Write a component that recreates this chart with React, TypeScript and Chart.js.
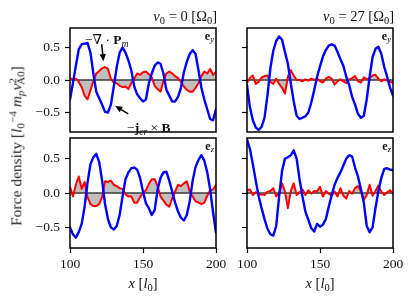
import React, { useEffect, useRef } from "react";
import { Chart, registerables } from "chart.js";

Chart.register(...registerables);

const FONT = '"Liberation Serif", "DejaVu Serif", serif';

// x positions [l0]
const X_VALUES = [
  100, 102, 104, 106, 108, 110, 112, 114, 116, 118,
  120, 122, 124, 126, 128, 130, 132, 134, 136, 138,
  140, 142, 144, 146, 148, 150, 152, 154, 156, 158,
  160, 162, 164, 166, 168, 170, 172, 174, 176, 178,
  180, 182, 184, 186, 188, 190, 192, 194, 196, 198,
  200,
];

// nu0 = 0, e_y
const TL_RED = [
  0.03, 0.0, 0.02, -0.03, -0.11, -0.24, -0.3, -0.16, -0.02, 0.1,
  0.14, 0.18, 0.2, 0.17, 0.02, -0.04, -0.05, -0.09, -0.11, -0.1,
  -0.14, -0.05, 0.02, 0.1, 0.08, 0.12, 0.13, 0.09, 0.04, -0.09,
  -0.14, -0.18, -0.02, 0.1, 0.13, 0.1, 0.06, 0.03, -0.03, -0.1,
  -0.15, -0.18, -0.18, -0.12, -0.05, 0.06, 0.13, 0.1, 0.17, 0.08,
  0.13,
];
const TL_BLUE = [
  -0.3, -0.05, 0.22, 0.47, 0.55, 0.56, 0.57, 0.42, 0.1, -0.18,
  -0.28, -0.38, -0.49, -0.5, -0.38, -0.1, 0.2, 0.42, 0.5, 0.42,
  0.3, 0.15, -0.1, -0.22, -0.28, -0.33, -0.3, -0.05, 0.1, 0.22,
  0.27, 0.25, 0.1, -0.15, -0.24, -0.33, -0.33, -0.26, -0.12, 0.12,
  0.28, 0.4, 0.46, 0.4, 0.15, -0.12, -0.3, -0.45, -0.6, -0.62,
  -0.45,
];

// nu0 = 27, e_y
const TR_RED = [
  -0.04, 0.03, 0.07, -0.06, -0.03, 0.04, 0.06, 0.07, -0.03, -0.06,
  0.02, -0.06, -0.12, -0.21, 0.05, 0.15, 0.07, 0.0, 0.0, -0.02,
  0.01, -0.01, 0.02, 0.0, 0.03, -0.02, -0.04, 0.02, 0.05, 0.02,
  -0.07, -0.02, 0.01, -0.02, -0.05, 0.01, 0.03, 0.06, -0.02, -0.04,
  0.04, 0.01, 0.03, 0.07, 0.08, 0.02, -0.02, 0.01, -0.01, -0.03,
  -0.04,
];
const TR_BLUE = [
  -0.08, -0.42, -0.62, -0.73, -0.77, -0.72, -0.58, -0.24, 0.18, 0.45,
  0.6, 0.67, 0.62, 0.43, 0.25, -0.05, -0.33, -0.55, -0.6, -0.58,
  -0.56, -0.5, -0.35, -0.16, 0.05, 0.21, 0.36, 0.46, 0.53, 0.55,
  0.53, 0.43, 0.32, 0.22, 0.05, -0.08, -0.26, -0.38, -0.52, -0.58,
  -0.55, -0.3, 0.05, 0.35, 0.48, 0.51, 0.4, 0.2, 0.05, -0.12,
  -0.24,
];

// nu0 = 0, e_z
const BL_RED = [
  0.09, -0.05, 0.12, 0.24, 0.06, 0.16, -0.06, -0.16, -0.19, -0.19,
  -0.16, -0.06, 0.17, 0.16, 0.18, 0.12, 0.1, 0.07, 0.06, -0.02,
  -0.05, -0.05, -0.14, -0.14, -0.06, 0.0, 0.04, 0.13, 0.2, 0.2,
  0.1, -0.05, -0.11, -0.17, -0.2, -0.08, 0.02, 0.12, 0.1, 0.14,
  0.17, 0.02, -0.05, -0.12, -0.14, -0.16, -0.14, -0.04, 0.04, 0.05,
  0.12,
];
const BL_BLUE = [
  -0.5, -0.6, -0.65, -0.57, -0.45, -0.2, 0.15, 0.42, 0.52, 0.57,
  0.45, 0.18, -0.16, -0.38, -0.5, -0.53, -0.48, -0.32, -0.05, 0.2,
  0.3, 0.36, 0.37, 0.34, 0.22, 0.02, -0.15, -0.22, -0.32, -0.25,
  0.05, 0.22, 0.3, 0.31, 0.18, 0.02, -0.14, -0.27, -0.36, -0.4,
  -0.32, -0.12, 0.18, 0.38, 0.48, 0.55, 0.47, 0.3, 0.05, -0.28,
  -0.58,
];

// nu0 = 27, e_z
const BR_RED = [
  0.04, 0.05, -0.03, 0.01, -0.02, -0.02, -0.03, 0.02, 0.03, 0.07,
  -0.05, 0.0, 0.14, 0.02, -0.22, 0.03, 0.14, -0.03, 0.01, 0.05,
  -0.03, 0.04, -0.01, 0.03, 0.02, 0.09, -0.05, 0.03, -0.01, -0.04,
  0.02, -0.05, 0.07, -0.04, -0.08, 0.03, -0.01, 0.07, 0.1, 0.02,
  -0.1, -0.03, 0.12, -0.04, 0.03, 0.11, 0.02, -0.03, 0.01, 0.04,
  -0.01,
];
const BR_BLUE = [
  0.78, 0.64, 0.42, 0.18, -0.05, -0.22, -0.38, -0.52, -0.6, -0.62,
  -0.48, -0.05, 0.32, 0.5, 0.52, 0.55, 0.62, 0.5, 0.2, -0.05,
  -0.27, -0.39, -0.51, -0.56, -0.45, -0.49, -0.46, -0.38, -0.2, -0.03,
  0.12, 0.22, 0.3, 0.4, 0.5, 0.55, 0.53, 0.37, 0.24, 0.06,
  -0.14, -0.48, -0.57, -0.5, -0.22, 0.03, 0.22, 0.35, 0.36, 0.34,
  0.33,
];

const X_TICKS = [100, 150, 200];
const Y_TICKS = [-0.5, 0, 0.5];
const X_RANGE = [100, 200];
const Y_RANGE = [-0.8, 0.8];

// annotation arrows in data coordinates (tail -> head)
const TL_ARROWS = [
  { from: [121.7, 0.55], to: [122.9, 0.29] },
  { from: [139.9, -0.52], to: [131.0, -0.4] },
];

type Arrow = { from: number[]; to: number[] };

const fmtY = (v: number) =>
  (v < 0 ? "\u2212" : "") + Math.abs(v).toFixed(1);

const framePlugin = {
  id: "frame",
  afterDraw(chart: any) {
    const { ctx, chartArea } = chart;
    ctx.save();
    ctx.strokeStyle = "#000";
    ctx.lineWidth = 1.5;
    ctx.strokeRect(
      chartArea.left,
      chartArea.top,
      chartArea.right - chartArea.left,
      chartArea.bottom - chartArea.top
    );
    ctx.restore();
  },
};

const makeArrowPlugin = (arrows: Arrow[]) => ({
  id: "arrows",
  afterDraw(chart: any) {
    const { ctx, scales } = chart;
    ctx.save();
    ctx.strokeStyle = "#000";
    ctx.fillStyle = "#000";
    ctx.lineWidth = 1.5;
    for (const a of arrows) {
      const x1 = scales.x.getPixelForValue(a.from[0]);
      const y1 = scales.y.getPixelForValue(a.from[1]);
      const x2 = scales.x.getPixelForValue(a.to[0]);
      const y2 = scales.y.getPixelForValue(a.to[1]);
      const ang = Math.atan2(y2 - y1, x2 - x1);
      const hl = 7;
      const hw = 3.2;
      const bx = x2 - hl * Math.cos(ang);
      const by = y2 - hl * Math.sin(ang);
      ctx.beginPath();
      ctx.moveTo(x1, y1);
      ctx.lineTo(bx, by);
      ctx.stroke();
      ctx.beginPath();
      ctx.moveTo(x2, y2);
      ctx.lineTo(bx - hw * Math.sin(ang), by + hw * Math.cos(ang));
      ctx.lineTo(bx + hw * Math.sin(ang), by - hw * Math.cos(ang));
      ctx.closePath();
      ctx.fill();
    }
    ctx.restore();
  },
});

type PanelProps = {
  left: number;
  top: number;
  width: number;
  height: number;
  red: number[];
  blue: number[];
  showX: boolean;
  showYLabels: boolean;
  arrows?: Arrow[];
};

function Panel(p: PanelProps) {
  const ref = useRef<HTMLCanvasElement>(null);
  const L = 50;
  const T = 6;
  const R = 14;
  const B = p.showX ? 36 : 6;
  const cw = p.width + L + R;
  const ch = p.height + T + B;

  useEffect(() => {
    if (!ref.current) return;
    const pts = (arr: number[]) => arr.map((v, i) => ({ x: X_VALUES[i], y: v }));
    const zero = X_RANGE.map((x) => ({ x, y: 0 }));
    const plugins: any[] = [framePlugin];
    if (p.arrows) plugins.push(makeArrowPlugin(p.arrows));
    const chart = new Chart(ref.current, {
      type: "line",
      data: {
        datasets: [
          {
            data: pts(p.red),
            borderWidth: 0,
            borderColor: "rgba(0,0,0,0)",
            backgroundColor: "#bfbfbf",
            fill: { value: 0 },
            pointRadius: 0,
            order: 4,
          },
          {
            data: zero,
            borderColor: "#3a3a3a",
            borderWidth: 1.6,
            pointRadius: 0,
            fill: false,
            order: 3,
          },
          {
            data: pts(p.red),
            borderColor: "#ff0000",
            borderWidth: 2,
            borderJoinStyle: "round",
            borderCapStyle: "round",
            pointRadius: 0,
            fill: false,
            order: 2,
          },
          {
            data: pts(p.blue),
            borderColor: "#0000ff",
            borderWidth: 2.4,
            borderJoinStyle: "round",
            borderCapStyle: "round",
            pointRadius: 0,
            fill: false,
            order: 1,
          },
        ],
      } as any,
      options: {
        animation: false,
        responsive: false,
        maintainAspectRatio: false,
        events: [],
        layout: { padding: { top: T, right: R, bottom: p.showX ? 0 : B, left: 0 } },
        plugins: {
          legend: { display: false },
          tooltip: { enabled: false },
          title: { display: false },
        },
        scales: {
          x: {
            type: "linear",
            min: X_RANGE[0],
            max: X_RANGE[1],
            display: p.showX,
            afterBuildTicks: (s: any) => {
              s.ticks = X_TICKS.map((v) => ({ value: v }));
            },
            afterFit: (s: any) => {
              s.height = B;
              s.paddingLeft = 0;
              s.paddingRight = 0;
              s.paddingTop = 0;
              s.paddingBottom = 0;
            },
            border: { display: false },
            grid: {
              drawOnChartArea: false,
              drawTicks: true,
              tickLength: 5,
              tickColor: "#000",
              tickWidth: 1.2,
            },
            ticks: {
              color: "#111",
              font: { family: FONT, size: 13.5 },
              padding: 3,
              maxRotation: 0,
              autoSkip: false,
              callback: (v: any) => String(v),
            },
          },
          y: {
            type: "linear",
            min: Y_RANGE[0],
            max: Y_RANGE[1],
            afterBuildTicks: (s: any) => {
              s.ticks = Y_TICKS.map((v) => ({ value: v }));
            },
            afterFit: (s: any) => {
              s.width = L;
              s.paddingLeft = 0;
              s.paddingRight = 0;
              s.paddingTop = 0;
              s.paddingBottom = 0;
            },
            border: { display: false },
            grid: {
              drawOnChartArea: false,
              drawTicks: true,
              tickLength: 5,
              tickColor: "#000",
              tickWidth: 1.2,
            },
            ticks: {
              display: p.showYLabels,
              color: "#111",
              font: { family: FONT, size: 13.5 },
              padding: 5,
              autoSkip: false,
              callback: (v: any) => fmtY(Number(v)),
            },
          },
        },
      } as any,
      plugins,
    });
    return () => chart.destroy();
  }, []);

  return (
    <canvas
      ref={ref}
      width={cw}
      height={ch}
      style={{ position: "absolute", left: p.left - L, top: p.top - T, width: cw, height: ch }}
    />
  );
}

const Sub = ({ children }: { children: any }) => (
  <span style={{ fontSize: "0.72em", verticalAlign: "-0.28em" }}>{children}</span>
);
const Sup = ({ children }: { children: any }) => (
  <span style={{ fontSize: "0.72em", verticalAlign: "0.45em" }}>{children}</span>
);

const abs = (extra: any) => ({
  position: "absolute" as const,
  whiteSpace: "nowrap" as const,
  lineHeight: 1,
  color: "#111",
  ...extra,
});

export default function App() {
  const PL = { left: 70, width: 146 };
  const PR = { left: 247, width: 146 };
  const TOP = { top: 28, height: 110 };
  const BOT = { top: 138, height: 110 };

  return (
    <div
      style={{
        position: "fixed",
        left: 0,
        top: 0,
        width: 415,
        height: 302,
        background: "#fff",
        fontFamily: FONT,
        overflow: "hidden",
      }}
    >
      <Panel {...PL} {...TOP} red={TL_RED} blue={TL_BLUE} showX={false} showYLabels={true} arrows={TL_ARROWS} />
      <Panel {...PR} {...TOP} red={TR_RED} blue={TR_BLUE} showX={false} showYLabels={false} />
      <Panel {...PL} {...BOT} red={BL_RED} blue={BL_BLUE} showX={true} showYLabels={true} />
      <Panel {...PR} {...BOT} red={BR_RED} blue={BR_BLUE} showX={true} showYLabels={false} />

      {/* titles */}
      <div style={abs({ right: 415 - 217, top: 9, fontSize: 14.5 })}>
        <i>ν</i>
        <Sub>0</Sub> = 0 [Ω<Sub>0</Sub>]
      </div>
      <div style={abs({ right: 415 - 394, top: 9, fontSize: 14.5 })}>
        <i>ν</i>
        <Sub>0</Sub> = 27 [Ω<Sub>0</Sub>]
      </div>

      {/* corner labels */}
      <div style={abs({ right: 415 - 214, top: 30, fontSize: 12 })}>
        <b>e</b>
        <Sub>
          <i>y</i>
        </Sub>
      </div>
      <div style={abs({ right: 415 - 391, top: 30, fontSize: 12 })}>
        <b>e</b>
        <Sub>
          <i>y</i>
        </Sub>
      </div>
      <div style={abs({ right: 415 - 214, top: 140, fontSize: 12 })}>
        <b>e</b>
        <Sub>
          <i>z</i>
        </Sub>
      </div>
      <div style={abs({ right: 415 - 391, top: 140, fontSize: 12 })}>
        <b>e</b>
        <Sub>
          <i>z</i>
        </Sub>
      </div>

      {/* annotations */}
      <div style={abs({ left: 85, top: 33, fontSize: 13.5 })}>
        −∇ · <b>P</b>
        <Sub>
          <i>m</i>
        </Sub>
      </div>
      <div style={abs({ left: 127, top: 121, fontSize: 13.5 })}>
        −<b>j</b>
        <Sub>
          <i>cr</i>
        </Sub>{" "}
        × <b>B</b>
      </div>

      {/* y label */}
      <div
        style={abs({
          left: 17,
          top: 146,
          fontSize: 15.5,
          color: "#222",
          transform: "translate(-50%, -50%) rotate(-90deg)",
        })}
      >
        Force density [<i>l</i>
        <Sub>0</Sub>
        <Sup>−4</Sup>
        <i> m</i>
        <Sub>
          <i>p</i>
        </Sub>
        <i>v</i>
        <Sup>2</Sup>
        <span style={{ marginLeft: "-0.45em" }}>
          <Sub>A0</Sub>
        </span>
        ]
      </div>

      {/* x labels */}
      <div style={abs({ left: 143, top: 285, fontSize: 14.5, transform: "translate(-50%, -50%)" })}>
        <i>x</i> [<i>l</i>
        <Sub>0</Sub>]
      </div>
      <div style={abs({ left: 320, top: 285, fontSize: 14.5, transform: "translate(-50%, -50%)" })}>
        <i>x</i> [<i>l</i>
        <Sub>0</Sub>]
      </div>
    </div>
  );
}
